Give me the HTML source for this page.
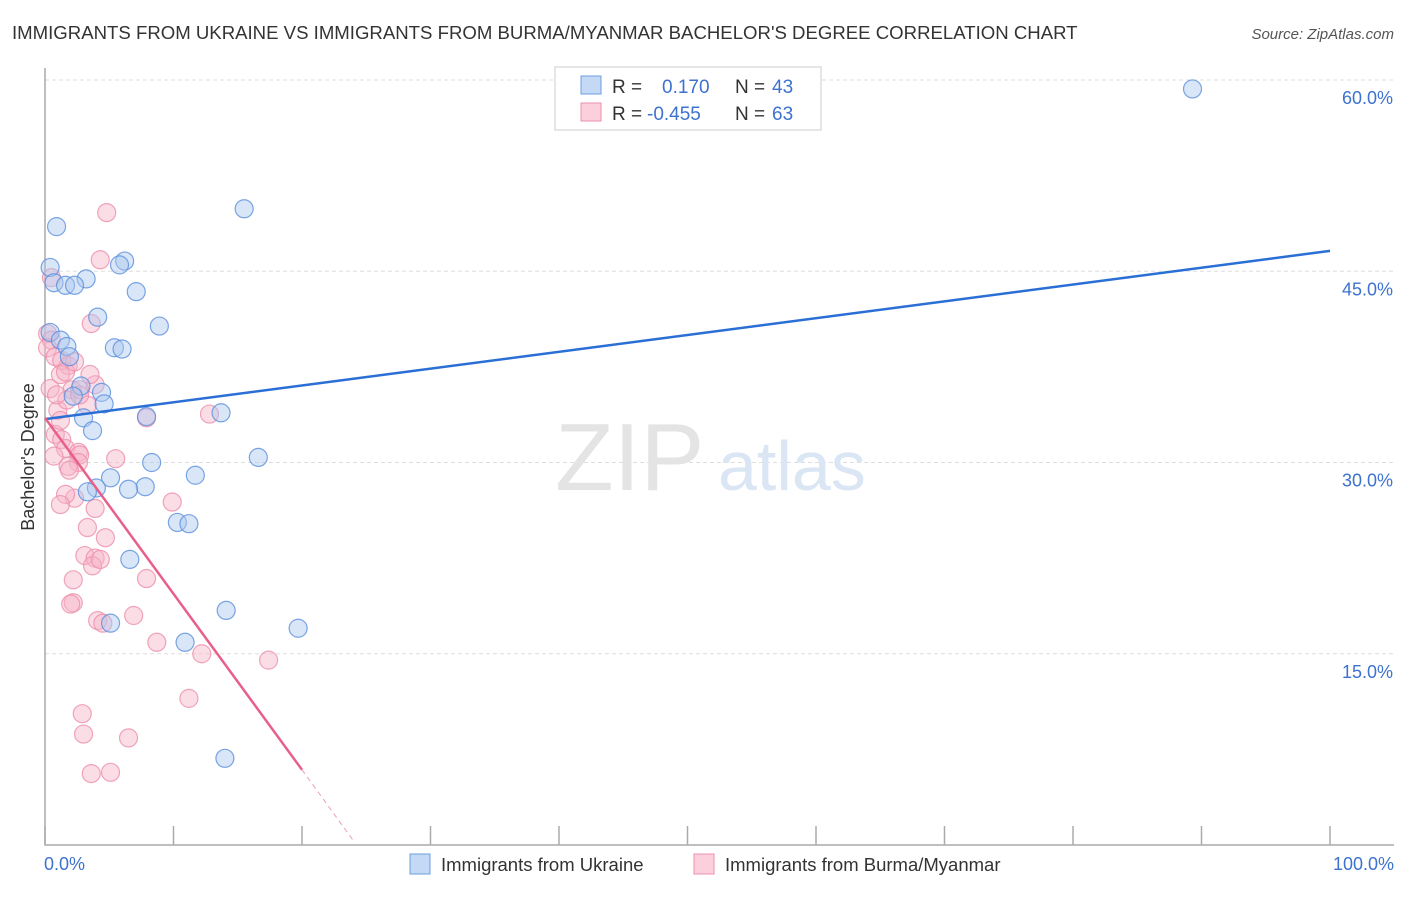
<!DOCTYPE html>
<html><head><meta charset="utf-8"><style>
body{margin:0;background:#fff;font-family:"Liberation Sans",sans-serif;}
svg text{font-family:"Liberation Sans",sans-serif;}
</style></head><body>
<svg width="1406" height="892" viewBox="0 0 1406 892" xmlns="http://www.w3.org/2000/svg">
<text x="12" y="39" font-size="18.6" fill="#333">IMMIGRANTS FROM UKRAINE VS IMMIGRANTS FROM BURMA/MYANMAR BACHELOR'S DEGREE CORRELATION CHART</text>
<text x="1394" y="39" font-size="15" fill="#555" font-style="italic" text-anchor="end">Source: ZipAtlas.com</text>
<g id="grid"></g>
<text x="555" y="490" font-size="96" fill="#e4e4e4" font-family="Liberation Serif">ZIP</text>
<text x="718" y="490" font-size="70" fill="#dbe6f5">atlas</text>
<g id="axes"></g>
<g id="pts"></g>
<g id="trends"></g>
<text transform="translate(34,457) rotate(-90)" font-size="18" fill="#333" text-anchor="middle">Bachelor's Degree</text>
<g>
<rect x="555" y="67" width="266" height="63" fill="#fff" stroke="#ccc"/>
<rect x="581" y="76" width="20" height="18" fill="#c4d9f5" stroke="#6c9de0"/>
<rect x="581" y="103" width="20" height="18" fill="#fbd0dc" stroke="#ec8fac"/>
<text x="612" y="93" font-size="19" fill="#333">R = </text><text x="662" y="93" font-size="19" fill="#3d72cf">0.170</text>
<text x="735" y="93" font-size="19" fill="#333">N = </text><text x="772" y="93" font-size="19" fill="#3d72cf">43</text>
<text x="612" y="120" font-size="19" fill="#333">R = </text><text x="647" y="120" font-size="19" fill="#3d72cf">-0.455</text>
<text x="735" y="120" font-size="19" fill="#333">N = </text><text x="772" y="120" font-size="19" fill="#3d72cf">63</text>
</g>
<g>
<rect x="410" y="854" width="20" height="20" fill="#c4d9f5" stroke="#6c9de0"/>
<text x="441" y="871" font-size="18.5" fill="#333">Immigrants from Ukraine</text>
<rect x="694" y="854" width="20" height="20" fill="#fbd0dc" stroke="#ec8fac"/>
<text x="725" y="871" font-size="18.5" fill="#333">Immigrants from Burma/Myanmar</text>
</g>
</svg>
<script>
const yTicks=[15,30,45,60];
const yTickLabels=["15.0%","30.0%","45.0%","60.0%"];
const xTickLabels=["0.0%","100.0%"];
const ukraineX=[89.3,15.5,0.9,0.4,6.2,5.8,3.2,0.7,1.6,2.3,7.1,4.1,8.9,0.4,1.2,1.7,5.4,6.0,1.9,2.8,4.4,2.2,4.6,7.9,3.0,13.7,3.7,8.3,16.6,11.7,5.1,7.8,6.5,4.0,3.3,10.3,11.2,6.6,14.1,5.1,19.7,10.9,14.0];
const ukraineY=[59.3,49.9,48.5,45.3,45.8,45.5,44.4,44.1,43.9,43.9,43.4,41.4,40.7,40.2,39.6,39.1,39.0,38.9,38.3,36.0,35.5,35.2,34.6,33.6,33.5,33.9,32.5,30.0,30.4,29.0,28.8,28.1,27.9,28.0,27.7,25.3,25.2,22.4,18.4,17.4,17.0,15.9,6.8];
const burmaX=[4.8,4.3,0.5,3.6,0.2,0.5,0.2,0.8,1.8,1.3,0.4,2.1,3.9,2.7,1.0,3.3,1.7,0.8,1.3,1.6,2.6,2.7,0.7,2.6,1.8,5.5,7.9,12.8,2.3,1.6,1.2,3.9,4.7,3.3,9.9,3.1,3.9,3.7,4.3,2.2,7.9,2.2,2.0,4.1,4.5,6.9,8.7,12.2,17.4,11.2,2.9,3.0,6.5,3.6,5.1,1.2,1.6,0.9,2.3,2.7,1.9,1.2,3.5];
const burmaY=[49.6,45.9,44.5,40.9,40.1,39.6,39.0,38.3,37.6,38.0,35.8,35.7,36.1,35.7,34.1,34.5,34.9,32.2,31.8,31.1,30.8,30.6,30.5,30.0,29.7,30.3,33.5,33.8,27.2,27.5,26.7,26.4,24.1,24.9,26.9,22.7,22.5,21.9,22.4,20.8,20.9,19.0,18.9,17.6,17.4,18.0,15.9,15.0,14.5,11.5,10.3,8.7,8.4,5.6,5.7,36.9,37.1,35.3,37.9,35.3,29.4,33.3,36.9];
const ukraineTrend=[[0,33.4],[100,46.6]];
const burmaTrendSolid=[[0,33.5],[20,5.9]];
const burmaTrendDash=[[20,5.9],[24.1,0.2]];
const NS="http://www.w3.org/2000/svg";
const X=v=>45+v*12.85, Y=v=>845-v*12.75;
function mk(tag,attrs,parent){const e=document.createElementNS(NS,tag);for(const k in attrs)e.setAttribute(k,attrs[k]);document.getElementById(parent).appendChild(e);return e;}
yTicks.forEach((t,i)=>{
 const l=mk('line',{x1:45,x2:1394,y1:Y(t),y2:Y(t),stroke:'#ddd','stroke-dasharray':'4,3'},'grid');
 
 
 const tx=mk('text',{x:1393,y:Y(t)+24,'font-size':18,fill:'#3d72cf','text-anchor':'end'},'grid');
 tx.textContent=yTickLabels[i];
 
 
});
const ax=mk('path',{d:'M45,68V845H1394',fill:'none',stroke:'#aaa','stroke-width':1.5},'axes');


for(let i=0;i<=10;i++){
 const tk=mk('line',{x1:X(i*10),x2:X(i*10),y1:826,y2:845,stroke:'#aaa','stroke-width':1.5},'axes');
 
 
}
[[0,'start',44],[100,'end',1394]].forEach((p,i)=>{
 const t=mk('text',{x:p[2],y:870,'font-size':18,fill:'#3d72cf','text-anchor':p[1]},'axes');
 t.textContent=xTickLabels[i];
 
 
});
function pts(xs,ys,fill,stroke,name){xs.forEach((x,i)=>{
 const c=mk('circle',{cx:X(x),cy:Y(ys[i]),r:9,fill:fill,'fill-opacity':0.45,stroke:stroke,'stroke-opacity':0.8,'stroke-width':1.2},'pts');
 
 
});}
pts(burmaX,burmaY,'#f7b3c7','#ec8fac','burma-point');
pts(ukraineX,ukraineY,'#aac8f0','#5a8fdc','ukraine-point');
function ln(seg,stroke,w,dash,name){
 const l=mk('line',{x1:X(seg[0][0]),y1:Y(seg[0][1]),x2:X(seg[1][0]),y2:Y(seg[1][1]),stroke:stroke,'stroke-width':w},'trends');
 if(dash)l.setAttribute('stroke-dasharray',dash);
 
 
}
ln(ukraineTrend,'#2a6fd6',2.5,null,'ukraine-trend-line');
ln(burmaTrendSolid,'#e8608a',2.5,null,'burma-trend-line');
ln(burmaTrendDash,'#e8a0b8',1,'5,4','burma-trend-extension');
</script>
</body></html>
